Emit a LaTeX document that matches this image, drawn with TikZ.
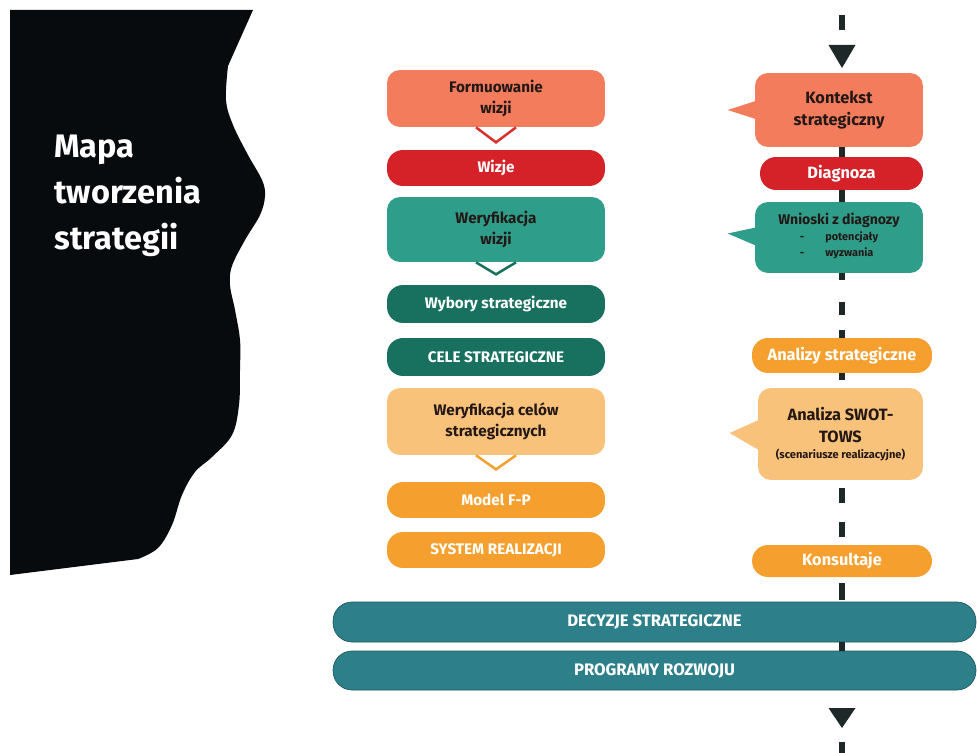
\documentclass[tikz,border=0pt]{standalone}
\usepackage{fontspec}
\setmainfont{Fira Sans}
\usepackage{tikz}
\usetikzlibrary{calc}
\definecolor{losos}{RGB}{242,124,92}
\definecolor{czerwony}{RGB}{213,34,40}
\definecolor{morski}{RGB}{46,158,138}
\definecolor{zielony}{RGB}{24,112,95}
\definecolor{jasnypom}{RGB}{249,194,122}
\definecolor{pomarancz}{RGB}{245,160,46}
\definecolor{pasek}{RGB}{45,127,138}
\definecolor{czern}{RGB}{7,11,13}
\definecolor{tekst}{RGB}{35,24,22}
\definecolor{kreska}{RGB}{30,40,40}

\begin{document}
\begin{tikzpicture}[x=0.02cm, y=-0.02cm,
    box/.style={rounded corners=0.26cm, inner sep=2pt, align=center,
        font=\bfseries\fontsize{8.7}{12}\selectfont},
    pill/.style={box, rounded corners=0.32cm},
    lewy/.style={minimum width=4.36cm},
    prawy/.style={font=\bfseries\fontsize{9.3}{12.5}\selectfont},
    pasekbox/.style={rounded corners=0.38cm, fill=pasek, text=white, draw=pasek!70!black, line width=0.4pt,
        minimum width=12.86cm, font=\bfseries\fontsize{9.5}{12}\selectfont},
    spine/.style={kreska, line width=0.11cm},
    vpoint/.style={fill=white, line width=0.05cm}
]
    \useasboundingbox (0,0) rectangle (977,753);

    % sylwetka z tytulem
    \fill[czern] (10,10) -- (253,10) -- plot[smooth, tension=0.6] coordinates {
        (228,66) (226,100) (233,125) (248,155) (262,180) (265,196) (260,215)
        (245,240) (232,266) (230,285) (235,310) (240,340) (240,370) (239,405)
        (232,435) (212,457) (195,472) (182,495) (172,525) (158,548) (138,559)}
        -- (10,575) -- cycle;
    \node[anchor=base west, align=left, text=white, inner sep=0,
        font=\bfseries\fontsize{18.5}{26.4}\selectfont] (tytul) at (54,250) {Mapa\\tworzenia\\strategii};

    % lewa kolumna
    \node[box, lewy, fill=losos, text=tekst, minimum height=1.14cm] (form) at (496,98.5) {Formuowanie\\wizji};
    \node[pill, lewy, fill=czerwony, text=white, minimum height=0.72cm] (wizje) at (496,168) {Wizje};
    \node[box, lewy, fill=morski, text=tekst, minimum height=1.3cm] (werwiz) at (496,229.5) {Weryfikacja\\wizji};
    \node[pill, lewy, fill=zielony, text=white, minimum height=0.76cm] (wybory) at (496,304) {Wybory strategiczne};
    \node[pill, lewy, fill=zielony, text=white, minimum height=0.76cm] (cele) at (496,357) {CELE STRATEGICZNE};
    \node[box, lewy, fill=jasnypom, text=tekst, minimum height=1.34cm] (wercel) at (496,421.5) {Weryfikacja celów\\strategicznych};
    \node[pill, lewy, fill=pomarancz, text=white, minimum height=0.72cm] (model) at (496,500) {Model F-P};
    \node[pill, lewy, fill=pomarancz, text=white, minimum height=0.72cm] (system) at (496,550) {SYSTEM REALIZACJI};

    \draw[vpoint, draw=czerwony!85!losos] ($(form.south)+(-20,0)$) -- ($(form.south)+(0,15)$) -- ($(form.south)+(20,0)$);
    \draw[vpoint, draw=zielony] ($(werwiz.south)+(-20,0)$) -- ($(werwiz.south)+(0,12)$) -- ($(werwiz.south)+(20,0)$);
    \draw[vpoint, draw=pomarancz] ($(wercel.south)+(-20,0)$) -- ($(wercel.south)+(0,14)$) -- ($(wercel.south)+(20,0)$);

    % prawa kolumna
    \node[box, prawy, fill=losos, text=tekst, minimum width=3.36cm, minimum height=1.48cm] (kontekst) at (839,110) {Kontekst\\strategiczny};
    \node[pill, prawy, fill=czerwony, text=white, minimum width=3.26cm, minimum height=0.66cm] (diagnoza) at (841.5,173.5) {Diagnoza};
    \node[box, fill=morski, text=tekst, minimum width=3.36cm, minimum height=1.42cm,
        font=\bfseries\fontsize{8}{11}\selectfont] (wnioski) at (839,237.5)
        {Wnioski z diagnozy\\{\fontsize{6.2}{9}\selectfont\begin{tabular}{@{}l@{\hspace{12pt}}l@{}}-&potencjały\\-&wyzwania\end{tabular}}};
    \node[pill, prawy, fill=pomarancz, text=white, minimum width=3.6cm, minimum height=0.7cm] (analizy) at (842,355.5) {Analizy strategiczne};
    \node[box, prawy, fill=jasnypom, text=tekst, minimum width=3.3cm, minimum height=1.84cm] (swot) at (840.5,434)
        {Analiza SWOT-\\TOWS\\[-3pt]{\fontsize{6.3}{9}\selectfont(scenariusze realizacyjne)}};
    \node[pill, prawy, fill=pomarancz, text=white, minimum width=3.6cm, minimum height=0.64cm] (konsult) at (842,561) {Konsultaje};

    \fill[losos] ($(kontekst.west)+(1,-9)$) -- ($(kontekst.west)+(-27,0)$) -- ($(kontekst.west)+(1,9)$) -- cycle;
    \fill[morski] ($(wnioski.west)+(1,-10)$) -- ($(wnioski.west)+(-27,-4)$) -- ($(wnioski.west)+(1,8)$) -- cycle;
    \fill[jasnypom] ($(swot.west)+(1,-14)$) -- ($(swot.west)+(-28,-1)$) -- ($(swot.west)+(1,16)$) -- cycle;

    % paski na dole
    \node[pasekbox, minimum height=0.8cm] (decyzje) at (654.5,622) {DECYZJE STRATEGICZNE};
    \node[pasekbox, minimum height=0.78cm] (programy) at (654.5,670.5) {PROGRAMY ROZWOJU};

    % os procesu
    \coordinate (start) at (842,15);
    \coordinate (g1) at (842,45);
    \coordinate (g2) at (842,728);
    \coordinate (koniec) at (842,753);
    \fill[kreska] (828.5,45) -- (855.5,45) -- (842,68) -- cycle;
    \fill[kreska] (828.5,708) -- (855.5,708) -- (842,728) -- cycle;
    \draw[spine, dash pattern=on 0.3cm off 1cm] (start) -- (g1);
    \draw[spine] (kontekst.south -| start) -- (diagnoza.north -| start);
    \draw[spine] (diagnoza.south -| start) -- (wnioski.north -| start);
    \draw[spine, dash pattern=on 0.14cm off 0.44cm on 0.26cm off 0.3cm on 0.3cm off 1cm] (wnioski.south -| start) -- (analizy.north -| start);
    \draw[spine, dash pattern=on 0.14cm off 1cm] (analizy.south -| start) -- (swot.north -| start);
    \draw[spine, dash pattern=on 0cm off 0.16cm on 0.3cm off 0.38cm on 0.3cm off 2cm] (swot.south -| start) -- (konsult.north -| start);
    \draw[spine, dash pattern=on 0cm off 0.12cm on 0.34cm off 1cm] (konsult.south -| start) -- (decyzje.north -| start);
    \draw[spine] (decyzje.south -| start) -- (programy.north -| start);
    \draw[spine, dash pattern=on 0cm off 0.28cm on 1cm] (g2) -- (koniec);
\end{tikzpicture}
\end{document}
